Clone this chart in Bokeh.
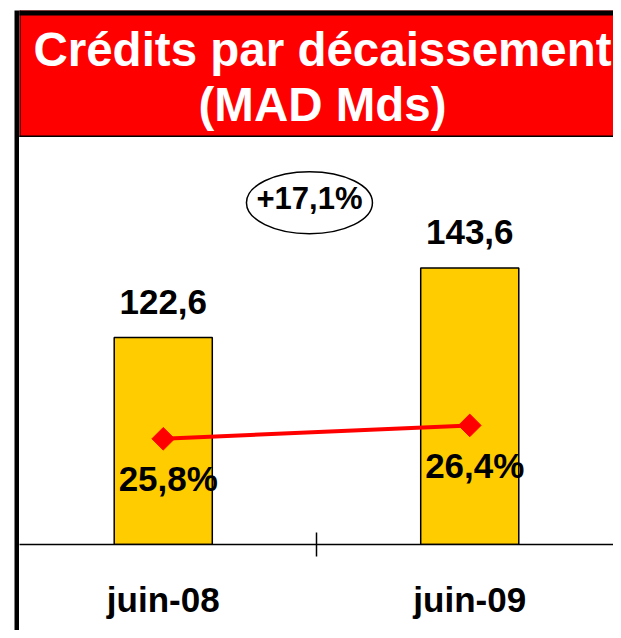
from bokeh.plotting import figure
from bokeh.models import (Range1d, FactorRange, LinearAxis, CategoricalAxis, FixedTicker,
                          Label, BoxAnnotation)
from bokeh.layouts import row, column
from bokeh.embed import file_html
from bokeh.resources import INLINE
from bokeh.core.properties import value
import numpy as np

# ---- data ----
categories = ["juin-08", "juin-09"]
credits = [122.6, 143.6]          # MAD Mds
share_pct = [25.8, 26.4]          # %
title_lines = ["Crédits par décaissement", "(MAD Mds)"]

value_labels = [f"{v:.1f}".replace(".", ",") for v in credits]
pct_labels = [f"{v:.1f}%".replace(".", ",") for v in share_pct]
growth = (credits[1] / credits[0] - 1) * 100
growth_label = f"+{growth:.1f}%".replace(".", ",")

FONT = "Liberation Sans"
RED = "#FF0000"
GOLD = "#FFCC00"

W_MAIN = 594
H_TITLE = 137
H_CHART = 493

# ---- left black strip (frame = the black line) ----
strip = figure(width=19, height=H_TITLE + H_CHART, toolbar_location=None, output_backend="svg",
               x_axis_location=None, y_axis_location=None,
               min_border_left=14, min_border_right=0, min_border_top=10, min_border_bottom=0,
               background_fill_color="black", border_fill_color="white", outline_line_color=None)
strip.grid.visible = False

# ---- title banner: red frame with black top / bottom / left edges ----
t = figure(width=W_MAIN, height=H_TITLE, x_range=Range1d(0, W_MAIN), y_range=Range1d(0, 127),
           toolbar_location=None, output_backend="svg",
           x_axis_location=None, y_axis_location=None,
           min_border_left=0, min_border_right=0, min_border_top=10, min_border_bottom=0,
           background_fill_color=RED, border_fill_color="white", outline_line_color=None)
t.grid.visible = False
t.add_layout(BoxAnnotation(bottom=122, top=140, left=-20, right=W_MAIN + 20,
                           fill_color="black", fill_alpha=1, line_color=None))
t.add_layout(BoxAnnotation(bottom=-20, top=2, left=-20, right=W_MAIN + 20,
                           fill_color="black", fill_alpha=1, line_color=None))
t.add_layout(BoxAnnotation(bottom=-20, top=140, left=-20, right=1,
                           fill_color="black", fill_alpha=1, line_color=None))
t.add_layout(Label(x=303, y=88, text=title_lines[0], text_align="center",
                   text_baseline="alphabetic", text_font=FONT, text_font_style="bold",
                   text_font_size="47.5px", text_color="white"))
t.add_layout(Label(x=303, y=33, text=title_lines[1], text_align="center",
                   text_baseline="alphabetic", text_font=FONT, text_font_style="bold",
                   text_font_size="47.5px", text_color="white"))

# ---- chart ----
p = figure(x_range=FactorRange(factors=categories, range_padding=-0.031),
           y_range=Range1d(60, 183.1),
           width=W_MAIN, height=H_CHART, toolbar_location=None, output_backend="svg",
           x_axis_location=None, y_axis_location=None,
           min_border_left=0, min_border_right=0, min_border_top=0, min_border_bottom=86,
           outline_line_color=None, background_fill_color="white", border_fill_color="white")
p.grid.visible = False
p.extra_y_ranges = {"pct": Range1d(21.06, 39.31)}

p.vbar(x=categories, top=credits, bottom=0, width=0.32,
       fill_color=GOLD, line_color="black", line_width=1.5)

p.line(x=categories, y=share_pct, y_range_name="pct", line_color=RED, line_width=4)
p.scatter(x=categories, y=share_pct, y_range_name="pct", marker="square", size=16,
          angle=np.pi / 4, fill_color=RED, line_color=RED)

p.text(x=categories, y=credits, text=value_labels, text_align="center",
       text_baseline="alphabetic", y_offset=-36, text_font=value(FONT),
       text_font_style="bold", text_font_size="35px", text_color="black")
p.text(x=categories, y=share_pct, y_range_name="pct", text=pct_labels, text_align="center",
       text_baseline="alphabetic", x_offset=5, y_offset=40, text_font=value(FONT),
       text_font_style="bold", text_font_size="35px", text_color="black")

# growth bubble between the two bars
p.ellipse(x=[(categories[0], 0.477)], y=[163.4], width=126, height=62,
          width_units="screen", height_units="screen",
          fill_color="white", line_color="black", line_width=1.5)
p.text(x=[(categories[0], 0.477)], y=[163.4], text=[growth_label], text_align="center",
       text_baseline="alphabetic", y_offset=-4, text_font=value(FONT),
       text_font_style="bold", text_font_size="31px", text_color="black")

# boundary ticks axis
tick_axis = LinearAxis(ticker=FixedTicker(ticks=list(range(len(categories) + 1))),
                       axis_line_color="black", axis_line_width=1.5,
                       major_tick_in=12, major_tick_out=12,
                       major_tick_line_color="black", major_tick_line_width=1.5,
                       minor_tick_line_color=None,
                       major_label_text_font_size="0px", major_label_text_color=None,
                       major_label_standoff=0)
label_axis = CategoricalAxis(axis_line_color=None, major_tick_line_color=None,
                             minor_tick_line_color=None,
                             major_label_text_font=FONT, major_label_text_font_style="bold",
                             major_label_text_font_size="35px", major_label_text_color="black",
                             major_label_standoff=17)
p.add_layout(tick_axis, "below")
p.add_layout(label_axis, "below")

layout = row(strip, column(t, p, spacing=0), spacing=0)

open("out.html", "w").write(file_html(layout, INLINE))
